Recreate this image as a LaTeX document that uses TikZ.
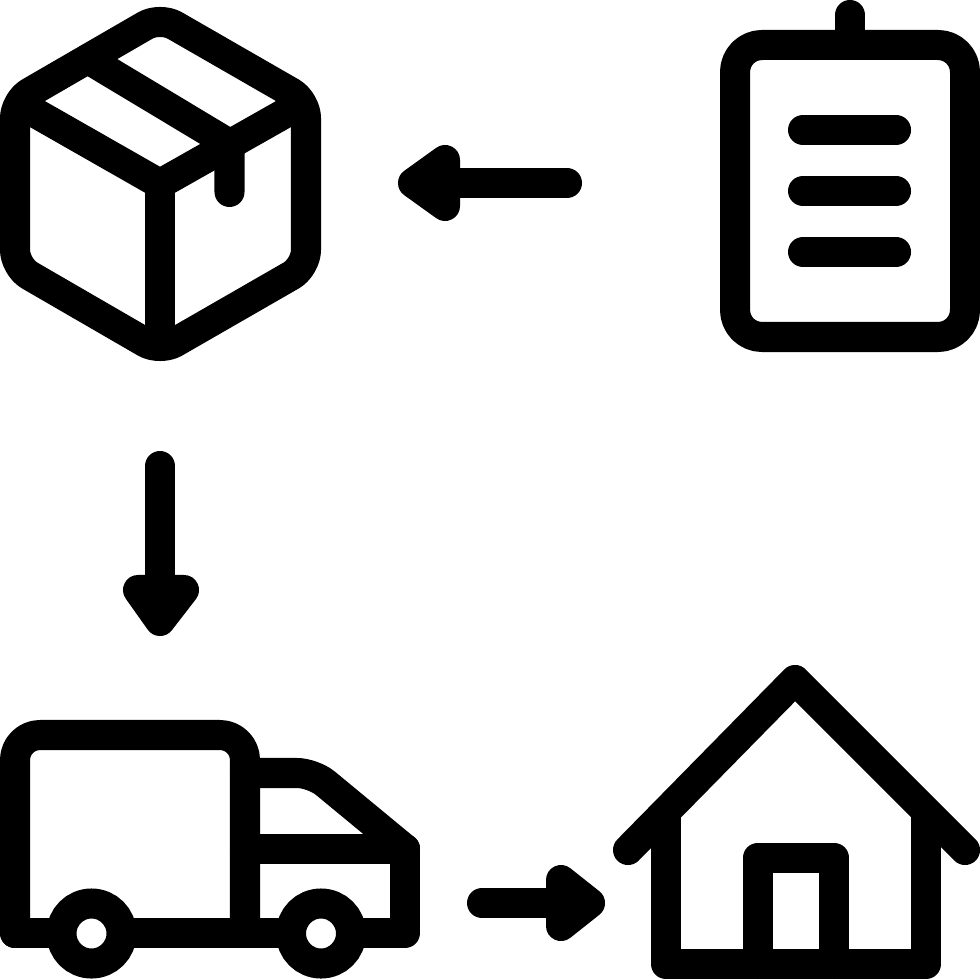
\documentclass[tikz,border=0pt]{standalone}
\begin{document}
\begin{tikzpicture}[x=0.01cm,y=-0.01cm,
  icon/.style={line width=0.3cm,line cap=round,line join=round,draw=black},
  headfill/.style={icon,fill=black},
  wheel/.style={draw=black,line width=0.3cm,fill=white}]
\useasboundingbox[fill=white] (0,0) rectangle (980,980);
% box
\draw[icon,rounded corners=0.17cm] (160,17) -- (306,101) -- (306,267) -- (160,351) -- (15,267) -- (15,101) -- cycle;
\draw[icon] (25,107) -- (160,184) -- (296,107);
\draw[icon] (160,184) -- (160,345);
\draw[icon] (88,59) -- (229.5,144) -- (229.5,192);
% clipboard
\draw[icon,rounded corners=0.27cm] (735,45) rectangle (965,337);
\draw[icon] (850,15) -- (850,45);
\draw[icon] (803,130) -- (896,130);
\draw[icon] (803,191) -- (896,191);
\draw[icon] (803,252) -- (896,252);
% arrow left
\draw[icon] (567,183) -- (430,183);
\draw[headfill] (445,160) -- (413,183) -- (445,206) -- cycle;
% arrow down
\draw[icon] (160,466) -- (160,600);
\draw[headfill] (138,590) -- (160,621) -- (184,590) -- cycle;
% arrow right
\draw[icon] (482,903) -- (575,903);
\draw[headfill] (561,880) -- (590,903) -- (561,926) -- cycle;
% truck
\draw[icon,rounded corners=0.25cm] (15,933) -- (15,735) -- (245,735) -- (245,933);
\draw[icon,rounded corners=0.16cm] (245,773) -- (313,773) -- (405,849);
\draw[icon] (405,849) -- (405,933) -- (15,933);
\draw[icon] (245,849) -- (405,849);
\draw[wheel] (91.5,933.5) circle (30);
\draw[wheel] (321,933.5) circle (30);
% house
\draw[icon] (628,850) -- (795,680) -- (965,850);
\draw[icon] (666,815) -- (666,964) -- (926,964) -- (926,815);
\draw[icon] (758,964) -- (758,857.5) -- (834,857.5) -- (834,964);
\end{tikzpicture}
\end{document}
